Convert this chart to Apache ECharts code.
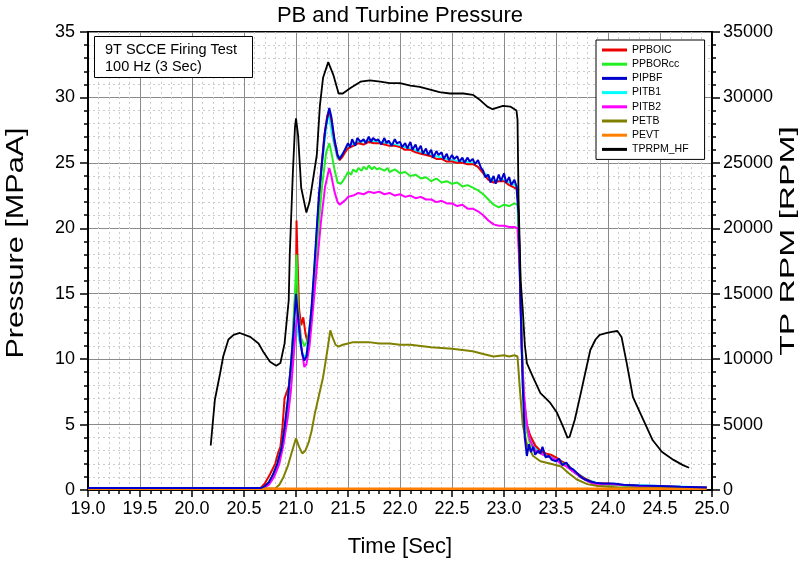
<!DOCTYPE html>
<html>
<head>
<meta charset="utf-8">
<script src="https://cdn.jsdelivr.net/npm/echarts@6/dist/echarts.min.js"></script>
<style>
html,body{margin:0;padding:0;background:#fff;}
#chart{width:800px;height:563px;}
</style>
</head>
<body>
<div id="chart"></div>
<script>
// ---- data (time [s], value) ----
var xTicks = [19.0,19.5,20.0,20.5,21.0,21.5,22.0,22.5,23.0,23.5,24.0,24.5,25.0];
var legendNames = ['PPBOIC','PPBORcc','PIPBF','PITB1','PITB2','PETB','PEVT','TPRPM_HF'];

var ppboic = [[19.0,0.15],[20.66,0.15],[20.70,0.5],[20.75,1.2],[20.80,2.0],[20.83,2.9],[20.85,3.3],[20.87,4.8],[20.89,7.0],[20.93,7.9],[20.96,9.9],[20.98,13.2],[21.00,15.8],[21.005,20.6],[21.015,17.5],[21.03,13.8],[21.05,12.6],[21.07,13.2],[21.09,12.0],[21.11,11.3],[21.13,11.9],[21.15,13.5],[21.18,16.8],[21.21,20.8],[21.24,24.3],[21.27,26.9],[21.30,28.6],[21.32,29.0],[21.34,28.3],[21.37,26.6],[21.40,25.5],[21.42,25.2],[21.45,25.5],[21.48,25.9],[21.50,26.1],[21.55,26.3],[21.60,26.5],[21.65,26.4],[21.70,26.6],[21.75,26.5],[21.80,26.5],[21.85,26.4],[21.90,26.3],[21.95,26.3],[22.00,26.2],[22.05,26.0],[22.10,26.0],[22.15,25.8],[22.20,25.7],[22.25,25.6],[22.30,25.5],[22.35,25.3],[22.40,25.3],[22.45,25.1],[22.50,25.1],[22.55,25.0],[22.60,25.0],[22.65,24.9],[22.70,24.9],[22.75,24.7],[22.80,24.2],[22.85,23.7],[22.90,23.5],[22.95,23.6],[23.00,23.6],[23.05,23.3],[23.10,23.1],[23.13,23.0],[23.15,18.0],[23.17,11.0],[23.19,7.0],[23.22,5.0],[23.25,4.2],[23.30,3.4],[23.35,3.0],[23.40,2.8],[23.45,2.7],[23.50,2.5],[23.55,2.2],[23.60,2.0],[23.65,1.6],[23.70,1.3],[23.75,1.0],[23.80,0.8],[23.85,0.6],[23.90,0.5],[24.00,0.5],[24.10,0.4],[24.30,0.3],[24.60,0.25],[24.95,0.2]];

var ppborcc = [[19.0,0.15],[20.67,0.15],[20.72,0.4],[20.77,1.0],[20.82,2.0],[20.86,3.2],[20.90,5.2],[20.93,7.5],[20.96,10.5],[20.99,15.0],[21.005,18.0],[21.02,13.8],[21.05,11.6],[21.08,11.0],[21.11,11.4],[21.14,13.0],[21.17,15.8],[21.21,19.5],[21.25,23.2],[21.29,25.8],[21.32,26.5],[21.34,25.8],[21.37,24.5],[21.40,23.5],[21.43,23.4],[21.45,23.6],[21.48,24.0],[21.50,24.3],[21.53,24.1],[21.55,24.5],[21.58,24.3],[21.60,24.6],[21.63,24.4],[21.65,24.7],[21.68,24.5],[21.70,24.8],[21.73,24.5],[21.75,24.7],[21.78,24.5],[21.80,24.6],[21.85,24.4],[21.88,24.6],[21.90,24.3],[21.95,24.5],[22.00,24.2],[22.05,24.3],[22.10,24.0],[22.15,24.1],[22.20,23.8],[22.25,23.9],[22.30,23.6],[22.35,23.8],[22.40,23.5],[22.45,23.6],[22.50,23.4],[22.55,23.5],[22.60,23.2],[22.65,23.3],[22.70,23.1],[22.75,22.9],[22.80,22.6],[22.85,22.2],[22.90,21.8],[22.95,21.6],[23.00,21.8],[23.05,21.7],[23.10,21.9],[23.13,21.8],[23.15,18.0],[23.17,12.0],[23.19,7.0],[23.22,4.5],[23.25,3.5],[23.30,3.0],[23.35,2.8],[23.40,2.6],[23.45,2.5],[23.50,2.3],[23.55,2.1],[23.60,1.9],[23.65,1.5],[23.70,1.2],[23.75,0.9],[23.80,0.7],[23.85,0.5],[23.90,0.4],[24.00,0.4],[24.20,0.3],[24.60,0.2],[24.95,0.15]];

var pipbf = [[19.0,0.15],[20.66,0.15],[20.70,0.3],[20.74,0.6],[20.78,1.2],[20.82,2.0],[20.86,3.2],[20.89,4.8],[20.92,6.8],[20.95,9.5],[20.98,12.5],[21.00,15.0],[21.02,13.2],[21.04,11.5],[21.06,10.4],[21.08,9.9],[21.10,10.2],[21.12,11.5],[21.15,14.0],[21.18,17.5],[21.22,22.5],[21.25,25.0],[21.28,27.5],[21.32,29.2],[21.34,28.5],[21.37,26.8],[21.40,25.6],[21.42,25.3],[21.45,25.7],[21.47,26.0],[21.50,26.5],[21.52,26.2],[21.54,26.8],[21.57,26.3],[21.59,26.9],[21.62,26.6],[21.65,26.8],[21.67,26.5],[21.70,27.0],[21.72,26.6],[21.74,26.9],[21.77,26.7],[21.79,26.8],[21.82,26.4],[21.85,26.9],[21.87,26.5],[21.89,26.7],[21.92,26.3],[21.95,26.8],[21.97,26.5],[22.00,26.6],[22.02,26.2],[22.05,26.5],[22.07,26.1],[22.10,26.6],[22.12,26.0],[22.15,26.4],[22.17,25.9],[22.20,26.3],[22.22,25.7],[22.25,26.1],[22.27,25.6],[22.30,26.0],[22.32,25.4],[22.35,25.9],[22.37,25.6],[22.40,25.8],[22.42,25.3],[22.45,25.7],[22.47,25.2],[22.50,25.6],[22.52,25.3],[22.55,25.5],[22.57,25.1],[22.60,25.4],[22.62,25.0],[22.65,25.4],[22.67,25.1],[22.70,25.3],[22.72,24.9],[22.75,25.2],[22.78,24.6],[22.80,24.4],[22.82,23.9],[22.85,24.1],[22.87,23.5],[22.90,24.0],[22.92,23.4],[22.95,24.1],[22.97,23.6],[23.00,24.2],[23.02,23.5],[23.05,23.9],[23.07,23.3],[23.10,23.7],[23.12,23.2],[23.14,21.0],[23.16,14.0],[23.18,8.0],[23.20,4.0],[23.22,2.6],[23.24,3.5],[23.26,2.9],[23.28,3.3],[23.30,2.7],[23.33,3.0],[23.35,2.8],[23.37,3.3],[23.40,2.5],[23.43,2.6],[23.46,2.3],[23.50,2.2],[23.53,2.4],[23.56,1.9],[23.60,2.1],[23.63,1.7],[23.66,1.6],[23.70,1.3],[23.74,1.0],[23.78,0.8],[23.83,0.65],[23.88,0.55],[23.95,0.5],[24.05,0.5],[24.15,0.4],[24.30,0.35],[24.50,0.3],[24.70,0.25],[24.95,0.2]];

var pitb1 = [[19.0,0.15],[20.68,0.15],[20.74,0.5],[20.80,1.5],[20.86,3.0],[20.90,5.0],[20.95,9.0],[21.00,13.0],[21.03,11.5],[21.07,10.2],[21.10,10.3],[21.15,13.5],[21.20,20.0],[21.25,25.0],[21.31,29.0],[21.35,27.0],[21.40,25.3],[21.45,25.7],[21.50,26.3],[21.60,26.6],[21.70,26.7],[21.80,26.6],[21.90,26.5],[22.00,26.3],[22.10,26.1],[22.20,25.8],[22.30,25.6],[22.40,25.4],[22.50,25.2],[22.60,25.1],[22.70,25.0],[22.80,24.3],[22.90,23.6],[23.00,23.7],[23.10,23.3],[23.13,23.2],[23.15,17.0],[23.18,8.0],[23.22,4.5],[23.30,3.2],[23.40,2.7],[23.50,2.4],[23.60,2.0],[23.70,1.3],[23.80,0.8],[23.90,0.5],[24.10,0.4],[24.50,0.3],[24.95,0.2]];

var pitb2 = [[19.0,0.15],[20.69,0.15],[20.74,0.4],[20.79,1.0],[20.84,2.0],[20.88,3.5],[20.92,5.5],[20.95,7.5],[20.98,10.5],[21.00,12.5],[21.02,13.5],[21.05,11.0],[21.08,9.4],[21.10,9.6],[21.13,11.0],[21.16,13.5],[21.20,17.0],[21.24,20.5],[21.28,23.2],[21.32,24.6],[21.34,24.0],[21.37,22.8],[21.40,22.0],[21.42,21.8],[21.45,22.0],[21.48,22.2],[21.50,22.4],[21.55,22.5],[21.60,22.7],[21.65,22.6],[21.70,22.8],[21.75,22.7],[21.80,22.8],[21.85,22.6],[21.90,22.7],[21.95,22.5],[22.00,22.6],[22.05,22.4],[22.10,22.5],[22.15,22.3],[22.20,22.4],[22.25,22.2],[22.30,22.2],[22.35,22.0],[22.40,22.1],[22.45,21.9],[22.50,21.9],[22.55,21.7],[22.60,21.8],[22.65,21.5],[22.70,21.5],[22.75,21.3],[22.80,21.0],[22.85,20.6],[22.90,20.3],[22.95,20.2],[23.00,20.2],[23.05,20.1],[23.10,20.1],[23.13,20.0],[23.15,17.0],[23.17,11.0],[23.19,7.5],[23.22,5.0],[23.25,3.8],[23.30,3.0],[23.35,2.8],[23.40,2.6],[23.45,2.5],[23.50,2.3],[23.55,2.0],[23.60,1.8],[23.65,1.5],[23.70,1.2],[23.75,0.9],[23.80,0.7],[23.85,0.5],[23.90,0.4],[24.00,0.45],[24.10,0.4],[24.30,0.3],[24.60,0.25],[24.95,0.15]];

var petb = [[19.0,0.12],[20.80,0.12],[20.84,0.4],[20.88,1.0],[20.92,1.8],[20.96,2.9],[21.00,3.95],[21.03,3.3],[21.06,2.8],[21.09,3.0],[21.12,3.6],[21.15,4.5],[21.18,5.8],[21.22,7.2],[21.26,8.6],[21.30,10.6],[21.33,12.2],[21.35,11.7],[21.38,11.1],[21.41,10.95],[21.45,11.1],[21.50,11.2],[21.55,11.3],[21.60,11.3],[21.70,11.3],[21.80,11.2],[21.90,11.2],[22.00,11.1],[22.10,11.1],[22.20,11.0],[22.30,10.9],[22.40,10.85],[22.50,10.8],[22.60,10.7],[22.70,10.6],[22.80,10.4],[22.90,10.2],[23.00,10.3],[23.05,10.2],[23.10,10.3],[23.13,10.2],[23.15,8.0],[23.18,5.0],[23.22,3.5],[23.28,2.6],[23.35,2.2],[23.45,2.0],[23.55,1.8],[23.62,1.3],[23.70,0.8],[23.80,0.45],[23.90,0.3],[24.10,0.2],[24.95,0.15]];

var pevt = [[19.0,0.1],[21.0,0.1],[23.0,0.1],[24.95,0.1]];

var tprpm = [[20.18,3400],[20.22,6900],[20.27,8900],[20.30,10200],[20.35,11500],[20.40,11850],[20.46,12000],[20.56,11700],[20.64,11200],[20.69,10500],[20.75,9800],[20.81,9500],[20.85,9700],[20.89,11200],[20.93,14500],[20.94,18000],[20.97,24300],[20.99,27700],[21.00,28400],[21.02,27100],[21.05,23100],[21.10,21200],[21.13,22000],[21.20,25600],[21.23,29400],[21.26,31500],[21.31,32700],[21.36,31700],[21.41,30300],[21.45,30300],[21.52,30700],[21.62,31200],[21.71,31300],[21.81,31200],[21.90,31100],[22.00,31100],[22.10,30900],[22.19,30800],[22.29,30600],[22.38,30400],[22.48,30300],[22.61,30300],[22.70,30200],[22.77,29800],[22.84,29300],[22.89,29100],[22.99,29350],[23.06,29300],[23.12,29000],[23.13,28300],[23.14,22200],[23.16,16000],[23.18,13800],[23.20,11100],[23.22,9700],[23.28,8600],[23.35,7400],[23.39,7100],[23.44,6700],[23.51,5900],[23.57,4800],[23.61,4000],[23.63,4050],[23.68,5350],[23.73,7100],[23.78,8900],[23.83,10700],[23.88,11500],[23.92,11850],[23.99,12000],[24.05,12100],[24.09,12150],[24.13,11700],[24.18,9700],[24.24,7100],[24.34,5350],[24.43,3800],[24.52,2900],[24.63,2300],[24.72,1900],[24.78,1700]];

var FONT = '"Liberation Sans", Arial, sans-serif';
var chart = echarts.init(document.getElementById('chart'), null, {renderer:'canvas'});

function line(name, data, color, width, yIdx, z) {
  return {name:name, type:'line', data:data, yAxisIndex:yIdx, showSymbol:false, symbol:'none',
    lineStyle:{color:color, width:width}, itemStyle:{color:color}, z:z, animation:false, clip:true};
}

var minorGrid = {show:true, lineStyle:{color:'#cccccc', width:1, type:[2,3]}};
var majorGrid = {show:true, lineStyle:{color:'#8a8a8a', width:1}};

var option = {
  animation:false,
  backgroundColor:'#fff',
  title:{text:'PB and Turbine Pressure', left:'center', top:0,
    textStyle:{fontFamily:FONT, fontSize:22, fontWeight:'normal', color:'#000'}},
  grid:{left:88, right:88, top:32, bottom:73, outerBoundsMode:'none', containLabel:false,
    show:true, borderColor:'#000', borderWidth:2, backgroundColor:'transparent'},
  legend:{show:true, orient:'vertical', left:596, top:40, data:legendNames,
    icon:'rect', itemWidth:25, itemHeight:3, itemGap:0.2,
    padding:[3,16,3,6], borderColor:'#000', borderWidth:1, backgroundColor:'#fff',
    textStyle:{fontFamily:FONT, fontSize:10.5, lineHeight:14, color:'#000'}},
  xAxis:{type:'value', min:19, max:25, interval:0.5,
    name:'Time [Sec]', nameLocation:'middle', nameGap:46,
    nameTextStyle:{fontFamily:FONT, fontSize:22, color:'#000'},
    axisLine:{show:true, onZero:false, lineStyle:{color:'#000', width:2}},
    axisTick:{show:true, inside:false, length:7, lineStyle:{color:'#000', width:1.5}},
    minorTick:{show:true, splitNumber:5, length:4, lineStyle:{color:'#000', width:1.5}},
    axisLabel:{fontFamily:FONT, fontSize:18, color:'#000', margin:10, formatter:function(v){return v.toFixed(1);}},
    splitLine:majorGrid, minorSplitLine:minorGrid
  },
  yAxis:[
    {type:'value', min:0, max:35, interval:5, position:'left',
     axisLine:{show:true, lineStyle:{color:'#000', width:2}},
     axisTick:{show:true, inside:false, length:8, lineStyle:{color:'#000', width:1.5}},
     minorTick:{show:true, splitNumber:5, length:4, lineStyle:{color:'#000', width:1.5}},
     axisLabel:{fontFamily:FONT, fontSize:18, color:'#000', margin:13},
     splitLine:majorGrid, minorSplitLine:minorGrid
    },
    {type:'value', min:0, max:35000, interval:5000, position:'right',
     axisLine:{show:true, lineStyle:{color:'#000', width:2}},
     axisTick:{show:true, inside:false, length:8, lineStyle:{color:'#000', width:1.5}},
     minorTick:{show:true, splitNumber:5, length:4, lineStyle:{color:'#000', width:1.5}},
     axisLabel:{fontFamily:FONT, fontSize:18, color:'#000', margin:11, formatter:function(v){return String(v);}},
     splitLine:{show:false}, minorSplitLine:{show:false}
    }
  ],
  graphic:[
    {type:'rect', left:94, top:36, shape:{width:158, height:41}, style:{fill:'#fff', stroke:'#000', lineWidth:1}, z:100},
    {type:'text', left:105, top:41, style:{text:'9T SCCE Firing Test\n100 Hz (3 Sec)', fontFamily:FONT, fontSize:14.5, lineHeight:17.5, fill:'#000'}, z:101},
    {type:'text', x:17, y:243, rotation:Math.PI/2, scaleX:1.33, scaleY:1,
      style:{text:'Pressure [MPaA]', fontFamily:FONT, fontSize:23, fill:'#000', align:'center', verticalAlign:'middle'}, z:101},
    {type:'text', x:788, y:241, rotation:Math.PI/2, scaleX:1.6, scaleY:1,
      style:{text:'TP RPM [RPM]', fontFamily:FONT, fontSize:21, fill:'#000', align:'center', verticalAlign:'middle'}, z:101}
  ],
  series:[
    line('PITB1', pitb1, '#00ffff', 2, 0, 2),
    line('PPBOIC', ppboic, '#ee0000', 2, 0, 3),
    line('PPBORcc', ppborcc, '#22ee22', 2, 0, 4),
    line('PIPBF', pipbf, '#0000cc', 2, 0, 5),
    line('PITB2', pitb2, '#ff00ff', 2, 0, 4),
    line('PETB', petb, '#808000', 2, 0, 4),
    line('PEVT', pevt, '#ff8000', 2.5, 0, 4),
    line('TPRPM_HF', tprpm, '#000000', 1.8, 1, 6)
  ]
};
chart.setOption(option);
</script>
</body>
</html>
